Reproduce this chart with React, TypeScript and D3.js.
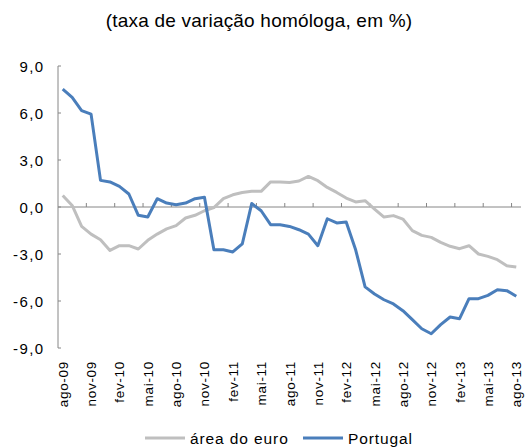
import React from "react";
import * as d3 from "d3";

const months = ["jan","fev","mar","abr","mai","jun","jul","ago","set","out","nov","dez"];
const categories: string[] = [];
for (let k = 0; k < 49; k++) {
  const m = (7 + k) % 12;
  const y = 9 + Math.floor((7 + k) / 12);
  categories.push(`${months[m]}-${String(y).padStart(2, "0")}`);
}

const euroArea = [
  0.74, 0.1, -1.24, -1.73, -2.09, -2.77, -2.47, -2.47, -2.68, -2.13,
  -1.73, -1.4, -1.19, -0.7, -0.53, -0.24, -0.04, 0.53, 0.78, 0.93,
  1.0, 1.0, 1.6, 1.6, 1.57, 1.66, 1.95, 1.68, 1.25, 0.93,
  0.57, 0.32, 0.4, -0.13, -0.64, -0.55, -0.77, -1.51, -1.81, -1.94,
  -2.26, -2.51, -2.66, -2.47, -3.0, -3.15, -3.36, -3.75, -3.83,
];

const portugal = [
  7.53, 7.0, 6.15, 5.93, 1.7, 1.6, 1.32, 0.83, -0.53, -0.64,
  0.53, 0.25, 0.15, 0.25, 0.53, 0.62, -2.73, -2.73, -2.87, -2.36,
  0.22, -0.24, -1.13, -1.13, -1.24, -1.45, -1.73, -2.47, -0.75, -1.02,
  -0.96, -2.73, -5.1, -5.55, -5.92, -6.19, -6.62, -7.19, -7.77, -8.09,
  -7.51, -7.02, -7.13, -5.85, -5.85, -5.64, -5.28, -5.34, -5.7,
];

const yTicks = [9, 6, 3, 0, -3, -6, -9];
const seriesNames = ["área do euro", "Portugal"];

const W = 528, H = 448;
const left = 58, right = 521, top = 66, bottom = 348;
const font = "Arial, 'Liberation Sans', sans-serif";

export default function App() {
  const x = d3.scaleBand<number>().domain(d3.range(categories.length)).range([left, right]);
  const y = d3.scaleLinear().domain([-9, 9]).range([bottom, top]);
  const cx = (i: number) => (x(i) as number) + x.bandwidth() / 2;
  const line = d3.line<number>().x((_, i) => cx(i)).y((d) => y(d));
  const fmt = (v: number) => v.toFixed(1).replace(".", ",");
  const y0 = y(0);
  const tickIdx = d3.range(3, categories.length + 1, 3);

  return (
    <svg width={W} height={H} style={{ position: "absolute", left: 0, top: 0 }}>
      <rect width={W} height={H} fill="#fff" />
      <text x={259} y={27} textAnchor="middle" fontFamily={font} fontSize={19} letterSpacing={0.2} fill="#000">
        (taxa de variação homóloga, em %)
      </text>
      {/* y axis */}
      <line x1={left} x2={left} y1={top} y2={bottom} stroke="#868686" strokeWidth={1} />
      {yTicks.map((t) => (
        <line key={"t" + t} x1={left} x2={left + 3} y1={y(t)} y2={y(t)} stroke="#868686" />
      ))}
      {yTicks.map((t) => (
        <text key={t} x={44.5} y={y(t) + 5.5} textAnchor="end" fontFamily={font} fontSize={15} letterSpacing={1.4} fill="#000">
          {fmt(t)}
        </text>
      ))}
      {/* x axis at zero */}
      <line x1={left} x2={right} y1={y0} y2={y0} stroke="#868686" strokeWidth={1} />
      {tickIdx.map((i) => {
        const xx = left + i * x.step();
        return <line key={i} x1={xx} x2={xx} y1={y0} y2={y0 - 4} stroke="#868686" />;
      })}
      {categories.map((c, i) =>
        i % 3 === 0 ? (
          <text
            key={c}
            transform={`translate(${cx(i) + 5},${bottom + 13}) rotate(-90)`}
            textAnchor="end"
            fontFamily={font}
            fontSize={13.5}
            letterSpacing={0.7}
            fill="#000"
          >
            {c}
          </text>
        ) : null
      )}
      <path d={line(euroArea) || ""} fill="none" stroke="#bfbfbf" strokeWidth={3} strokeLinejoin="round" />
      <path d={line(portugal) || ""} fill="none" stroke="#4a7ebb" strokeWidth={3} strokeLinejoin="round" />
      {/* legend */}
      <line x1={145} x2={185} y1={438} y2={438} stroke="#bfbfbf" strokeWidth={3} />
      <text x={190} y={443.5} fontFamily={font} fontSize={15.5} letterSpacing={0.9} fill="#000">{seriesNames[0]}</text>
      <line x1={303} x2={343} y1={438} y2={438} stroke="#4a7ebb" strokeWidth={3} />
      <text x={348} y={443.5} fontFamily={font} fontSize={15.5} letterSpacing={0.9} fill="#000">{seriesNames[1]}</text>
    </svg>
  );
}
